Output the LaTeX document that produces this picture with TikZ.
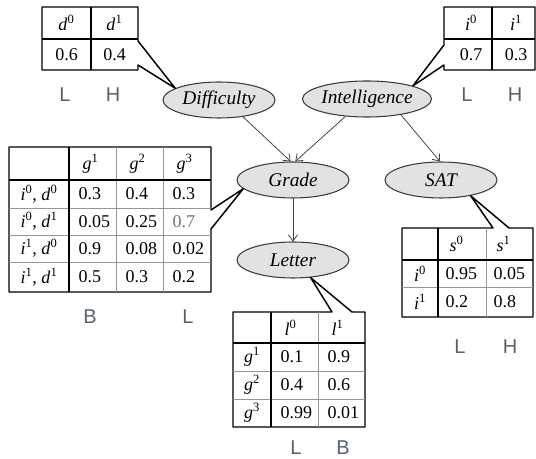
\documentclass[tikz,border=0pt]{standalone}
\usepackage{fontspec}
\setmainfont{Liberation Serif}
\newfontfamily\levelfont{Liberation Sans}
\usetikzlibrary{shapes.geometric,arrows.meta}

\newcommand{\rv}[2]{\textit{#1}\textsuperscript{#2}}

\tikzset{every picture/.style={line width=0.75pt}}
\tikzset{
  varnode/.style={ellipse, draw={rgb, 255:red, 60; green, 60; blue, 60}, fill={rgb, 255:red, 226; green, 226; blue, 226}, line width=0.8pt, minimum width=84pt, minimum height=27pt, inner sep=0pt, font=\fontsize{14.5}{17}\selectfont\itshape},
  cpt/.style={draw=black, line width=1.1pt, line join=round},
  rule/.style={draw=black, line width=1.1pt},
  hair/.style={draw={rgb, 255:red, 150; green, 150; blue, 150}, line width=0.5pt},
  cell/.style={inner sep=0.75pt, font=\fontsize{13.5}{16}\selectfont},
  lvl/.style={inner sep=0pt, font=\levelfont\fontsize{15}{17}\selectfont, text={rgb, 255:red, 85; green, 98; blue, 112}},
  dep/.style={draw={rgb, 255:red, 70; green, 70; blue, 70}, line width=0.6pt, -{Straight Barb[length=4.5pt,width=7pt]}}
}

\begin{document}
\begin{tikzpicture}[x=0.75pt,y=0.75pt,yscale=-1,xscale=1]
\useasboundingbox (0,0) rectangle (536,459);

%Shape: Ellipse
\node[varnode] (diff) at (219,100) {Difficulty};
%Shape: Ellipse
\node[varnode] (intel) at (367,99) {Intelligence};
%Shape: Ellipse
\node[varnode] (grade) at (293,180) {Grade};
%Shape: Ellipse
\node[varnode] (sat) at (441,180) {SAT};
%Shape: Ellipse
\node[varnode] (letter) at (293,260) {Letter};

%Straight Lines
\draw[dep] (diff.-35) -- (grade.97);
\draw[dep] (intel.219) -- (grade.83);
\draw[dep] (intel.-25) -- (sat.93);
\draw[dep] (grade) -- (letter);

%Table: Difficulty
\coordinate (dtip) at (diff.165);
\draw[cpt] (42,7) -- (138,7) -- (138,41) -- (dtip) -- (138,65) -- (138,70) -- (42,70) -- cycle;
\draw[rule] (91,7) -- (91,70);
\draw[rule] (42,39) -- (138,39);
\node[cell] (d0) at (66.5,23) {\rv{d}{0}};
\node[cell] (d1) at (114.5,23) {\rv{d}{1}};
\node[cell] (pd0) at (66.5,55) {0.6};
\node[cell] (pd1) at (114.5,55) {0.4};
\node[lvl] (dlo) at (65,95) {L};
\node[lvl] (dhi) at (113,95) {H};

%Table: Intelligence
\coordinate (itip) at (intel.16);
\draw[cpt] (444,45) -- (444,7) -- (535,7) -- (535,70) -- (444,70) -- (444,65) -- (itip) -- cycle;
\draw[rule] (492,7) -- (492,70);
\draw[rule] (444,39) -- (535,39);
\node[cell] (i0) at (471,23) {\rv{i}{0}};
\node[cell] (i1) at (516,23) {\rv{i}{1}};
\node[cell] (pi0) at (471,55) {0.7};
\node[cell] (pi1) at (516,55) {0.3};
\node[lvl] (ilo) at (467,95) {L};
\node[lvl] (ihi) at (515,95) {H};

%Table: Grade
\coordinate (gtip) at (grade.190);
\draw[cpt] (9,147) -- (211,147) -- (211,210) -- (gtip) -- (211,229) -- (211,292) -- (9,292) -- cycle;
\foreach \x in {116,163} \draw[hair] (\x,147) -- (\x,292);
\foreach \y in {208,235,262} \draw[hair] (9,\y) -- (211,\y);
\draw[rule] (69,147) -- (69,292);
\draw[rule] (9,180) -- (211,180);
\foreach \x/\s in {81/1,128/2,175/3}
  \node[cell,anchor=west] (g\s) at (\x,163.5) {\rv{g}{\s}};
\node[cell] (r1) at (39,194) {\rv{i}{0}, \rv{d}{0}};
\node[cell] (r2) at (39,221.5) {\rv{i}{0}, \rv{d}{1}};
\node[cell] (r3) at (39,248.5) {\rv{i}{1}, \rv{d}{0}};
\node[cell] (r4) at (39,277) {\rv{i}{1}, \rv{d}{1}};
\foreach \r/\y/\a/\b/\c in {1/194/0.3/0.4/0.3, 2/221.5/0.05/0.25/{\color{black!55}0.7}, 3/248.5/0.9/0.08/0.02, 4/277/0.5/0.3/0.2}{
  \node[cell,anchor=west] (pg\r a) at (77,\y) {\a};
  \node[cell,anchor=west] (pg\r b) at (124,\y) {\b};
  \node[cell,anchor=west] (pg\r c) at (171,\y) {\c};
}
\node[lvl] (glo) at (90,317) {B};
\node[lvl] (ghi) at (188,317) {L};

%Table: SAT
\coordinate (stip) at (sat.-28);
\draw[cpt] (493,228) -- (402,228) -- (402,317) -- (533,317) -- (533,228) -- (509,228) -- (stip) -- cycle;
\draw[hair] (486,228) -- (486,317);
\draw[hair] (402,287) -- (533,287);
\draw[rule] (438,228) -- (438,317);
\draw[rule] (402,260) -- (533,260);
\node[cell,anchor=west] (s0) at (448,244) {\rv{s}{0}};
\node[cell,anchor=west] (s1) at (495,244) {\rv{s}{1}};
\node[cell] (si0) at (420,273.5) {\rv{i}{0}};
\node[cell] (si1) at (420,302) {\rv{i}{1}};
\node[cell,anchor=west] (ps00) at (444,273.5) {0.95};
\node[cell,anchor=west] (ps01) at (492,273.5) {0.05};
\node[cell,anchor=west] (ps10) at (444,302) {0.2};
\node[cell,anchor=west] (ps11) at (492,302) {0.8};
\node[lvl] (slo) at (460,347) {L};
\node[lvl] (shi) at (510,347) {H};

%Table: Letter
\coordinate (ltip) at (letter.-45);
\draw[cpt] (332,312) -- (233,312) -- (233,427) -- (365,427) -- (365,312) -- (352,312) -- (ltip) -- cycle;
\draw[hair] (318,312) -- (318,427);
\foreach \y in {371,399} \draw[hair] (233,\y) -- (365,\y);
\draw[rule] (271,312) -- (271,427);
\draw[rule] (233,343) -- (365,343);
\node[cell,anchor=west] (l0) at (283,327.5) {\rv{l}{0}};
\node[cell,anchor=west] (l1) at (330,327.5) {\rv{l}{1}};
\foreach \r/\y/\a/\b in {1/357/0.1/0.9, 2/385/0.4/0.6, 3/413/0.99/0.01}{
  \node[cell] (lg\r) at (252,\y) {\rv{g}{\r}};
  \node[cell,anchor=west] (pl\r a) at (279,\y) {\a};
  \node[cell,anchor=west] (pl\r b) at (326,\y) {\b};
}
\node[lvl] (llo) at (296,448) {L};
\node[lvl] (lhi) at (343,448) {B};

\end{tikzpicture}
\end{document}
